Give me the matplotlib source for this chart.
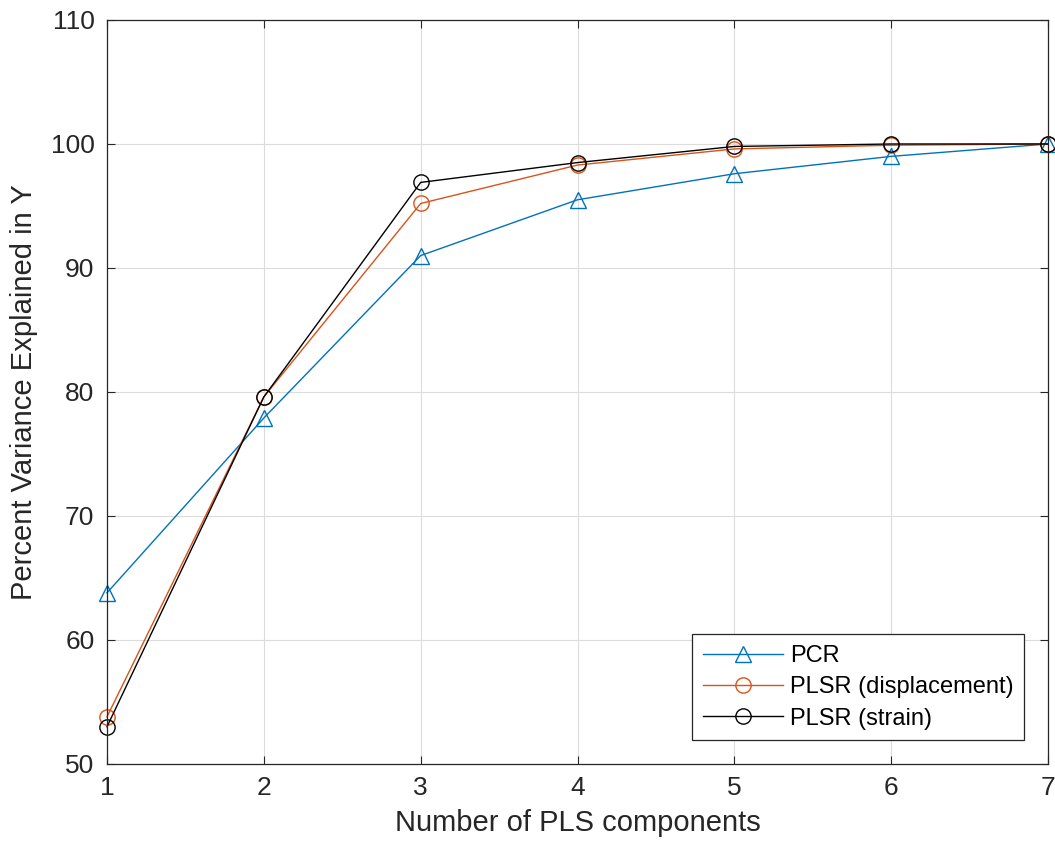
import numpy as np
import matplotlib
matplotlib.use("Agg")
import matplotlib.pyplot as plt

plt.rcParams['font.family'] = ['Liberation Sans', 'DejaVu Sans']

# data
n_comp = [1, 2, 3, 4, 5, 6, 7]
pcr = [63.8, 77.9, 91.0, 95.5, 97.6, 99.0, 100.0]
plsr_disp = [53.8, 79.6, 95.2, 98.3, 99.6, 99.9, 100.0]
plsr_strain = [53.0, 79.6, 96.9, 98.5, 99.8, 100.0, 100.0]
labels = ['PCR', 'PLSR (displacement)', 'PLSR (strain)']

blue = (0, 0.447, 0.741)
orange = (0.85, 0.325, 0.098)
txt = '#262626'

fig = plt.figure(figsize=(10.55, 8.5), dpi=100)
ax = fig.add_axes([0.1014, 0.1012, 0.8920, 0.8753])

ax.plot(n_comp, pcr, '-^', color=blue, lw=1.0, ms=12, mfc='none', mew=1.0, label=labels[0], clip_on=False)
ax.plot(n_comp, plsr_disp, '-o', color=orange, lw=1.0, ms=11, mfc='none', mew=1.0, label=labels[1], clip_on=False)
ax.plot(n_comp, plsr_strain, '-o', color='k', lw=1.0, ms=11, mfc='none', mew=1.0, label=labels[2], clip_on=False)

ax.set_xlim(1, 7)
ax.set_ylim(50, 110)
ax.set_xticks(n_comp)
ax.set_yticks(np.arange(50, 111, 10))
ax.grid(True, color='#dcdcdc', lw=0.8)
ax.set_axisbelow(True)
ax.tick_params(direction='in', top=True, right=True, labelsize=19, colors=txt, length=6, pad=9)
for s in ax.spines.values():
    s.set_color(txt)
    s.set_linewidth(0.9)

ax.set_xlabel('Number of PLS components', fontsize=21, color=txt, labelpad=6)
ax.set_ylabel('Percent Variance Explained in Y', fontsize=21, color=txt, labelpad=9)

leg = ax.legend(loc='lower right', fontsize=17, handlelength=3.4, fancybox=False,
                edgecolor=txt, framealpha=1, borderaxespad=1.0,
                labelspacing=0.4, handletextpad=0.3, borderpad=0.45)
leg.get_frame().set_linewidth(0.9)

fig.savefig('out.png', dpi=100)
